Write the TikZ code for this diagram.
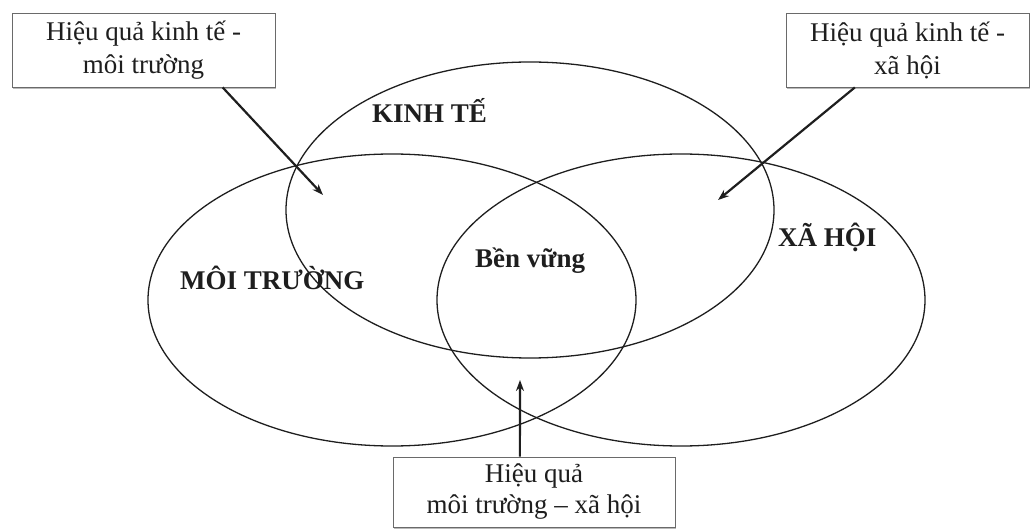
\documentclass[tikz,border=0pt]{standalone}
\usepackage{fontspec}
\setmainfont{Liberation Serif}
\usetikzlibrary{shapes.geometric,shadows,calc,arrows.meta}
\definecolor{ink}{HTML}{1E1E1E}
\definecolor{boxline}{HTML}{6A6A6A}
\tikzset{
  circ/.style={draw=ink, line width=1.3pt, ellipse, minimum width=488pt, minimum height=292pt, inner sep=0pt},
  infobox/.style={draw=boxline, line width=0.9pt, fill=white, text=ink, align=center, inner sep=0pt,
    font=\fontsize{27}{33}\selectfont,
    drop shadow={shadow xshift=1.2pt, shadow yshift=-2pt, fill=black!45, opacity=0.6}},
  setlabel/.style={text=ink, font=\fontsize{27}{32}\selectfont\bfseries, inner sep=0pt, anchor=base west},
  pointer/.style={draw=ink, line width=2.2pt, -{Stealth[length=11pt,width=8pt]}}
}
\begin{document}
\begin{tikzpicture}[x=1pt,y=-1pt]
\useasboundingbox (0,0) rectangle (1031,529);
\node[circ, minimum height=296pt] (kt) at (530,210) {};
\node[circ] (mt) at (392,300) {};
\node[circ] (xh) at (681,300) {};

\node[setlabel] (lkt) at (372,123) {KINH TẾ};
\node[setlabel] (lmt) at (180,290) {MÔI TRƯỜNG};
\node[setlabel] (lxh) at (778,247) {XÃ HỘI};
\node[setlabel] (lbv) at (475,268) {Bền vững};

\node[infobox, minimum width=263pt, minimum height=74pt] (b1) at (143.5,50) {Hiệu quả kinh tế -\\môi trường};
\node[infobox, minimum width=243pt, minimum height=74pt] (b2) at (907.5,50) {Hiệu quả kinh tế -\\xã hội};
\node[infobox, minimum width=282pt, minimum height=70pt, font=\fontsize{27}{31}\selectfont] (b3) at (534,492) {Hiệu quả\\môi trường – xã hội};

\coordinate (e1) at (323,195);
\coordinate (e2) at (718,200);
\coordinate (e3) at (520,380);
\draw[pointer] ($(b1.south west)!0.80!(b1.south east)$) -- (e1);
\draw[pointer] ($(b2.south west)!0.284!(b2.south east)$) -- (e2);
\draw[pointer] ($(b3.north west)!0.45!(b3.north east)$) -- (e3);
\end{tikzpicture}
\end{document}
